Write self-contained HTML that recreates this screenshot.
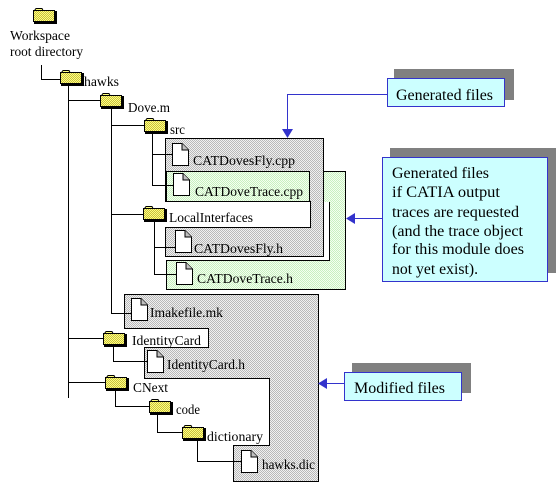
<!DOCTYPE html>
<html><head><meta charset="utf-8"><style>html,body{margin:0;padding:0;background:#fff}svg{display:block}svg text{font-family:"Liberation Serif","DejaVu Serif","Times New Roman",serif;fill:#000}</style></head>
<body>
<svg width="559" height="491" viewBox="0 0 559 491" xmlns="http://www.w3.org/2000/svg">
<defs>
<pattern id="gr" width="2" height="2" patternUnits="userSpaceOnUse"><rect width="2" height="2" fill="#f0f0f0"/><rect width="1" height="1" fill="#b8b8b8"/><rect x="1" y="1" width="1" height="1" fill="#b8b8b8"/></pattern>
<pattern id="gn" width="2" height="2" patternUnits="userSpaceOnUse"><rect width="2" height="2" fill="#f4fff0"/><rect width="1" height="1" fill="#c8f0c0"/><rect x="1" y="1" width="1" height="1" fill="#c8f0c0"/></pattern>
<pattern id="yl" width="2" height="2" patternUnits="userSpaceOnUse"><rect width="2" height="2" fill="#ffff80"/><rect width="1" height="1" fill="#c8c040"/><rect x="1" y="1" width="1" height="1" fill="#c8c040"/></pattern>
<g id="fold"><path d="M1.5 2.5 L3 0.5 L9 0.5 L10 2.5 Z" fill="#ffff80" stroke="#000"/><rect x="1" y="3" width="23" height="13" fill="#000"/><rect x="0.5" y="2.5" width="21" height="11" fill="url(#yl)" stroke="#000"/></g>
<g id="file"><path d="M0.5 0.5 H10 L16.5 7 V22.5 H0.5 Z" fill="#fff" stroke="#000"/><path d="M10 0.5 V7 H16.5" fill="#c0c0c0" stroke="#000"/></g>
</defs>

<rect x="166.5" y="171.5" width="179" height="118" fill="url(#gn)" stroke="#000"/>
<rect x="150" y="202" width="179" height="58" fill="#fff"/>
<path d="M329.5 202 V260.5 H167" fill="none" stroke="#000"/>
<rect x="165.5" y="138.5" width="158" height="118" fill="url(#gr)" stroke="#000"/>
<rect x="166.5" y="171.5" width="143" height="30" fill="url(#gn)" stroke="#000"/>
<rect x="140" y="202" width="170" height="25" fill="#fff"/>
<path d="M165 227.5 H310.5 V201" fill="none" stroke="#000"/>

<path d="M124.5 294.5 H318.5 V481.5 H233.5 V445.5 H269.5 V378.5 H144.5 V347.5 H208.5 V328.5 H124.5 Z" fill="url(#gr)" stroke="#000"/>

<g stroke="#000" fill="none">
<path d="M41.5 65 V79.5 H60"/>
<path d="M68.5 86 V398 M68 100.5 H100 M68 338.5 H103 M68 382.5 H105"/>
<path d="M111.5 108 V313.5 H131 M111 125.5 H144 M111 214.5 H143"/>
<path d="M152.5 133 V185.5 H173 M152 154.5 H172"/>
<path d="M154.5 221 V274.5 H176 M154 247.5 H175"/>
<path d="M113.5 346 V361.5 H147"/>
<path d="M115.5 390 V406.5 H149"/>
<path d="M157.5 414 V432.5 H182"/>
<path d="M197.5 440 V461.5 H241"/>
</g>

<use href="#fold" x="33" y="8"/>
<use href="#fold" x="60" y="70"/>
<use href="#fold" x="100" y="93"/>
<use href="#fold" x="144" y="118"/>
<use href="#fold" x="143" y="206"/>
<use href="#fold" x="103" y="331"/>
<use href="#fold" x="105" y="375"/>
<use href="#fold" x="149" y="399"/>
<use href="#fold" x="182" y="425"/>

<use href="#file" x="172" y="143"/>
<use href="#file" x="173" y="173"/>
<use href="#file" x="175" y="230"/>
<use href="#file" x="176" y="262"/>
<use href="#file" x="131" y="298"/>
<use href="#file" x="147" y="350"/>
<use href="#file" x="241" y="450"/>

<g font-size="14">
<text x="10" y="40" textLength="60" lengthAdjust="spacingAndGlyphs">Workspace</text>
<text x="10" y="56" textLength="73" lengthAdjust="spacingAndGlyphs">root directory</text>
<text x="84" y="86" textLength="35" lengthAdjust="spacingAndGlyphs">hawks</text>
<text x="128" y="112" textLength="42" lengthAdjust="spacingAndGlyphs">Dove.m</text>
<text x="170" y="134" textLength="15" lengthAdjust="spacingAndGlyphs">src</text>
<text x="193" y="165" textLength="102" lengthAdjust="spacingAndGlyphs">CATDovesFly.cpp</text>
<text x="195" y="196" textLength="108" lengthAdjust="spacingAndGlyphs">CATDoveTrace.cpp</text>
<text x="169" y="222" textLength="84" lengthAdjust="spacingAndGlyphs">LocalInterfaces</text>
<text x="194" y="253" textLength="89" lengthAdjust="spacingAndGlyphs">CATDovesFly.h</text>
<text x="197" y="283" textLength="96" lengthAdjust="spacingAndGlyphs">CATDoveTrace.h</text>
<text x="150" y="317" textLength="73" lengthAdjust="spacingAndGlyphs">Imakefile.mk</text>
<text x="132" y="345" textLength="69" lengthAdjust="spacingAndGlyphs">IdentityCard</text>
<text x="167" y="369" textLength="78" lengthAdjust="spacingAndGlyphs">IdentityCard.h</text>
<text x="133" y="392" textLength="35" lengthAdjust="spacingAndGlyphs">CNext</text>
<text x="176" y="414" textLength="24" lengthAdjust="spacingAndGlyphs">code</text>
<text x="207" y="441" textLength="56" lengthAdjust="spacingAndGlyphs">dictionary</text>
<text x="262" y="469" textLength="53" lengthAdjust="spacingAndGlyphs">hawks.dic</text>
</g>

<rect x="394" y="69" width="120" height="31" fill="#808080"/>
<rect x="387.5" y="78.5" width="117" height="28" fill="#ccffff" stroke="#3333cc"/>
<text x="396" y="100" font-size="16" textLength="97" lengthAdjust="spacingAndGlyphs">Generated files</text>
<path d="M387 94.5 H287.5 V130" fill="none" stroke="#3333cc"/>
<path d="M282 129 L293 129 L287.5 138 Z" fill="#3333cc"/>

<rect x="390" y="148" width="166" height="125" fill="#808080"/>
<rect x="382.5" y="157.5" width="165" height="124" fill="#ccffff" stroke="#3333cc"/>
<g font-size="16">
<text x="392" y="178" textLength="97" lengthAdjust="spacingAndGlyphs">Generated files</text>
<text x="392" y="197" textLength="108" lengthAdjust="spacingAndGlyphs">if CATIA output</text>
<text x="392" y="217" textLength="127" lengthAdjust="spacingAndGlyphs">traces are requested</text>
<text x="392" y="236" textLength="131" lengthAdjust="spacingAndGlyphs">(and the trace object</text>
<text x="392" y="254" textLength="132" lengthAdjust="spacingAndGlyphs">for this module does</text>
<text x="392" y="274" textLength="86" lengthAdjust="spacingAndGlyphs">not yet exist).</text>
</g>
<path d="M382 218.5 H354" fill="none" stroke="#3333cc"/>
<path d="M346 218.5 L355 213 L355 224 Z" fill="#3333cc"/>

<rect x="352" y="363" width="119" height="30" fill="#808080"/>
<rect x="344.5" y="372.5" width="117" height="28" fill="#ccffff" stroke="#3333cc"/>
<text x="354" y="393" font-size="16" textLength="91" lengthAdjust="spacingAndGlyphs">Modified files</text>
<path d="M344 383.5 H326" fill="none" stroke="#3333cc"/>
<path d="M318 383.5 L327 378 L327 389 Z" fill="#3333cc"/>
</svg>
</body></html>
